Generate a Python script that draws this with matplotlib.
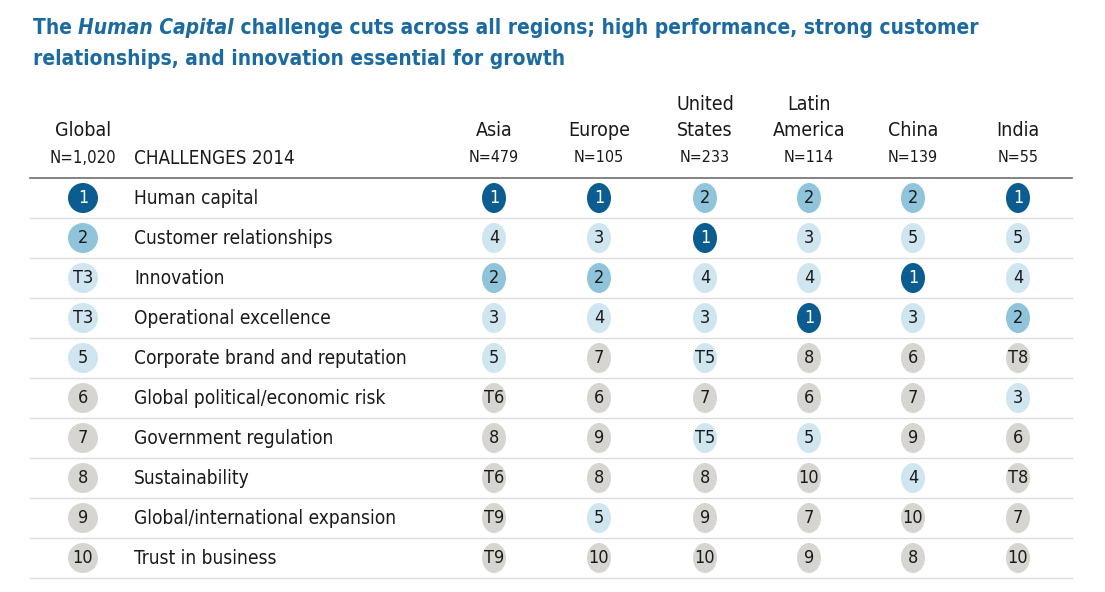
import matplotlib
matplotlib.use("Agg")
import matplotlib.pyplot as plt
from matplotlib.patches import Ellipse

# ------------------------------------ Data ----------------------------------
challenges = [
    "Human capital",
    "Customer relationships",
    "Innovation",
    "Operational excellence",
    "Corporate brand and reputation",
    "Global political/economic risk",
    "Government regulation",
    "Sustainability",
    "Global/international expansion",
    "Trust in business",
]
global_rank = ["1", "2", "T3", "T3", "5", "6", "7", "8", "9", "10"]

regions = ["Asia", "Europe", "United\nStates", "Latin\nAmerica", "China", "India"]
region_n = ["N=479", "N=105", "N=233", "N=114", "N=139", "N=55"]
asia = ["1", "4", "2", "3", "5", "T6", "8", "T6", "T9", "T9"]
europe = ["1", "3", "2", "4", "7", "6", "9", "8", "5", "10"]
united_states = ["2", "1", "4", "3", "T5", "7", "T5", "8", "9", "10"]
latin_america = ["2", "3", "4", "1", "8", "6", "5", "10", "7", "9"]
china = ["2", "5", "1", "3", "6", "7", "9", "4", "10", "8"]
india = ["1", "5", "4", "2", "T8", "3", "6", "T8", "7", "10"]
region_ranks = [asia, europe, united_states, latin_america, china, india]

# ------------------------------------ Style ----------------------------------
plt.rcParams["font.family"] = ["DejaVu Sans"]
plt.rcParams["font.stretch"] = "condensed"

TITLE_BLUE = "#1b6aa0"
DARK_BLUE = "#0b5d91"
MID_BLUE = "#8fc4da"
LIGHT_BLUE = "#cfe5f0"
GREY = "#d6d5d1"
TEXT = "#1a1a1a"


def rank_color(r):
    n = int(r.lstrip("T"))
    if n == 1:
        return DARK_BLUE, "white"
    if n == 2:
        return MID_BLUE, TEXT
    if n <= 5:
        return LIGHT_BLUE, TEXT
    return GREY, TEXT


# ------------------------------------ Layout (pixel space) ----------------------------------
W, H = 1105, 592
fig = plt.figure(figsize=(W / 100, H / 100), dpi=100)
ax = fig.add_axes([0, 0, 1, 1])
ax.set_xlim(0, W)
ax.set_ylim(H, 0)
ax.axis("off")

row0, row_h = 198, 40
x_global, x_label = 83, 134
x_regions = [494, 599, 705, 809, 913, 1018]

# title, first line in three pieces so the italic part keeps the same font
renderer = fig.canvas.get_renderer()
x = 33
for piece, style in [("The ", "normal"), ("Human Capital", "italic"),
                     (" challenge cuts across all regions; high performance, strong customer", "normal")]:
    t = ax.text(x, 28, piece, color=TITLE_BLUE, fontsize=15, fontweight="bold",
                style=style, va="center")
    bb = t.get_window_extent(renderer)
    x += bb.width
ax.text(33, 59, "relationships, and innovation essential for growth",
        color=TITLE_BLUE, fontsize=15, fontweight="bold", va="center")

# headers
ax.text(x_global, 130, "Global", ha="center", va="center", fontsize=14, color=TEXT)
ax.text(x_global, 158, "N=1,020", ha="center", va="center", fontsize=12, color=TEXT)
ax.text(x_label, 158, "CHALLENGES 2014", ha="left", va="center", fontsize=13.5, color=TEXT)
for xc, name, n in zip(x_regions, regions, region_n):
    lines = name.split("\n")
    for k, line in enumerate(reversed(lines)):
        ax.text(xc, 130 - 25 * k, line, ha="center", va="center", fontsize=14, color=TEXT)
    ax.text(xc, 158, n, ha="center", va="center", fontsize=11.5, color=TEXT)

# rules
ax.plot([30, 1072], [178, 178], color="#6e6e6e", lw=1.2)
for i in range(len(challenges)):
    y = row0 + row_h * (i + 0.5)
    ax.plot([30, 1072], [y, y], color="#dcdcdc", lw=1.0)

# rows
for i, label in enumerate(challenges):
    y = row0 + row_h * i
    ax.text(x_label, y, label, ha="left", va="center", fontsize=13.7, color=TEXT)
    fc, tc = rank_color(global_rank[i])
    ax.add_patch(Ellipse((x_global, y), 30, 30, color=fc, lw=0))
    ax.text(x_global, y, global_rank[i], ha="center", va="center", fontsize=13, color=tc)
    for xc, ranks in zip(x_regions, region_ranks):
        fc, tc = rank_color(ranks[i])
        ax.add_patch(Ellipse((xc, y), 24, 30, color=fc, lw=0))
        ax.text(xc, y, ranks[i], ha="center", va="center", fontsize=13, color=tc)

fig.savefig("out.png", dpi=100)
